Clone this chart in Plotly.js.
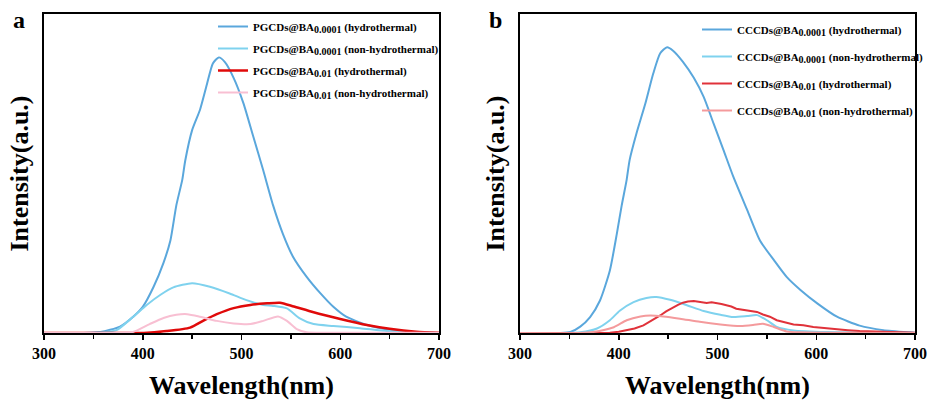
<!DOCTYPE html>
<html>
<head>
<meta charset="utf-8">
<script src="https://cdn.plot.ly/plotly-3.0.1.min.js"></script>
<style>html,body{margin:0;padding:0;background:#fff;}#chart{width:931px;height:406px;}</style>
</head>
<body>
<div id="chart"></div>
<script>
// ---------- Data ----------
const xTickVals = [300, 400, 500, 600, 700];
const xTickText = ["300", "400", "500", "600", "700"];

// Panel a: PGCDs
const namesA = [
  "PGCDs@BA<sub><span style=\"font-size:10px\">0.0001</span></sub> (hydrothermal)",
  "PGCDs@BA<sub><span style=\"font-size:10px\">0.0001</span></sub> (non-hydrothermal)",
  "PGCDs@BA<sub><span style=\"font-size:10px\">0.01</span></sub> (hydrothermal)",
  "PGCDs@BA<sub><span style=\"font-size:10px\">0.01</span></sub> (non-hydrothermal)"
];
const wlA1  = [300, 340, 357, 367, 377, 390, 400, 411, 421, 428, 434, 440, 443, 450, 458, 465, 471, 477, 483, 492, 502, 512, 522, 532, 542, 552, 566, 580, 593, 606, 627, 650, 680, 700];
const intA1 = [0, 0, 0.003, 0.01, 0.02, 0.05, 0.082, 0.145, 0.22, 0.29, 0.40, 0.48, 0.54, 0.636, 0.70, 0.78, 0.845, 0.864, 0.85, 0.80, 0.72, 0.615, 0.51, 0.40, 0.31, 0.24, 0.176, 0.124, 0.082, 0.051, 0.025, 0.01, 0.002, 0];
const wlA2  = [300, 350, 362, 374, 390, 404, 418, 431, 450, 468, 488, 505, 522, 532, 546, 559, 573, 593, 620, 647, 674, 700];
const intA2 = [0, 0, 0.003, 0.01, 0.05, 0.088, 0.12, 0.143, 0.156, 0.145, 0.124, 0.103, 0.088, 0.085, 0.077, 0.046, 0.028, 0.022, 0.015, 0.006, 0.002, 0];
const wlA3  = [300, 370, 401, 424, 448, 461, 475, 492, 509, 526, 539, 553, 573, 600, 627, 650, 677, 700];
const intA3 = [0, 0, 0, 0.006, 0.017, 0.038, 0.059, 0.078, 0.088, 0.093, 0.095, 0.083, 0.065, 0.044, 0.025, 0.013, 0.004, 0.001];
const wlA4  = [300, 370, 390, 407, 421, 434, 445, 458, 475, 492, 509, 522, 537, 546, 556, 566, 600, 700];
const intA4 = [0, 0, 0.003, 0.028, 0.047, 0.057, 0.059, 0.051, 0.038, 0.030, 0.028, 0.038, 0.052, 0.038, 0.012, 0.002, 0.001, 0.001];

// Panel b: CCCDs
const namesB = [
  "CCCDs@BA<sub><span style=\"font-size:10px\">0.0001</span></sub> (hydrothermal)",
  "CCCDs@BA<sub><span style=\"font-size:10px\">0.0001</span></sub> (non-hydrothermal)",
  "CCCDs@BA<sub><span style=\"font-size:10px\">0.01</span></sub> (hydrothermal)",
  "CCCDs@BA<sub><span style=\"font-size:10px\">0.01</span></sub> (non-hydrothermal)"
];
const wlB1  = [300, 340, 351, 361, 371, 381, 391, 398, 403, 408, 411, 418, 427, 435, 442, 449, 455, 465, 476, 486, 496, 506, 516, 530, 543, 557, 570, 584, 601, 621, 644, 668, 695, 700];
const intB1 = [0, 0, 0.003, 0.02, 0.05, 0.102, 0.196, 0.31, 0.40, 0.48, 0.542, 0.626, 0.72, 0.814, 0.877, 0.896, 0.885, 0.85, 0.80, 0.74, 0.657, 0.574, 0.49, 0.386, 0.29, 0.229, 0.176, 0.135, 0.093, 0.051, 0.023, 0.009, 0.002, 0.001];
const wlB2  = [300, 350, 361, 378, 391, 401, 415, 428, 438, 452, 469, 486, 503, 516, 530, 540, 550, 560, 577, 611, 700];
const intB2 = [0, 0, 0.002, 0.014, 0.04, 0.07, 0.097, 0.11, 0.113, 0.104, 0.087, 0.069, 0.057, 0.050, 0.053, 0.056, 0.040, 0.019, 0.008, 0.003, 0];
const wlB3  = [300, 380, 391, 400, 408, 416, 425, 433, 442, 448, 455, 460, 465, 470, 476, 481, 486, 489, 494, 499, 504, 509, 514, 519, 526, 533, 540, 546, 553, 560, 568, 577, 587, 597, 608, 621, 632, 644, 660, 678, 700];
const intB3 = [0, 0, 0.001, 0.004, 0.008, 0.014, 0.024, 0.038, 0.055, 0.068, 0.081, 0.088, 0.095, 0.099, 0.100, 0.097, 0.095, 0.094, 0.096, 0.094, 0.091, 0.087, 0.083, 0.076, 0.072, 0.069, 0.066, 0.058, 0.051, 0.040, 0.033, 0.027, 0.024, 0.019, 0.016, 0.011, 0.009, 0.006, 0.004, 0.002, 0.001];
const wlB4  = [300, 360, 374, 395, 408, 422, 432, 445, 462, 482, 503, 523, 536, 546, 557, 570, 583, 620, 700];
const intB4 = [0, 0, 0.003, 0.018, 0.04, 0.052, 0.055, 0.052, 0.045, 0.035, 0.027, 0.022, 0.025, 0.029, 0.019, 0.005, 0.002, 0.001, 0];

const colorsA = ["#5aa7dc", "#7fd2ee", "#e00a0a", "#f8bfd2"];
const colorsB = ["#5aa7dc", "#7fd2ee", "#e0323a", "#f49a9c"];

// ---------- Traces ----------
const dataA = [[wlA1, intA1], [wlA2, intA2], [wlA3, intA3], [wlA4, intA4]];
const dataB = [[wlB1, intB1], [wlB2, intB2], [wlB3, intB3], [wlB4, intB4]];
const traces = [];
dataA.forEach((d, i) => traces.push({
  x: d[0], y: d[1], name: namesA[i], type: 'scatter', mode: 'lines',
  line: {color: colorsA[i], width: i === 2 ? 2.5 : 2, shape: 'spline', smoothing: 0.6},
  xaxis: 'x', yaxis: 'y', legend: 'legend', legendgroup: 'a' + i
}));
dataB.forEach((d, i) => traces.push({
  x: d[0], y: d[1], name: namesB[i], type: 'scatter', mode: 'lines',
  line: {color: colorsB[i], width: 2, shape: i === 2 ? 'linear' : 'spline', smoothing: 0.6},
  xaxis: 'x2', yaxis: 'y2', legend: 'legend2', legendgroup: 'b' + i
}));

const serif = 'Liberation Serif, Times New Roman, serif';
function xAxis(domain, anchor) {
  return {
    domain: domain, anchor: anchor, range: [300, 700],
    tickmode: 'array', tickvals: xTickVals, ticktext: xTickText,
    ticks: 'outside', ticklen: 5, tickwidth: 1.5, tickcolor: '#000',
    minor: {dtick: 50, tick0: 300, ticks: 'outside', ticklen: 4, tickwidth: 1.5, tickcolor: '#000', showgrid: false},
    showline: true, mirror: true, linecolor: '#000', linewidth: 2,
    showgrid: false, zeroline: false,
    tickfont: {family: serif, size: 16, color: '#000', weight: 'bold'},
    title: {text: 'Wavelength(nm)', font: {family: serif, size: 26, color: '#000', weight: 'bold'}, standoff: 15}
  };
}
function yAxis(domain, anchor) {
  return {
    domain: domain, anchor: anchor, range: [0, 1],
    showline: true, mirror: true, linecolor: '#000', linewidth: 2,
    showgrid: false, zeroline: false, showticklabels: false, ticks: '',
    title: {text: 'Intensity(a.u.)', font: {family: serif, size: 26, color: '#000', weight: 'bold'}, standoff: 6}
  };
}
const legendFont = {family: serif, size: 11, color: '#000', weight: 'bold'};

const layout = {
  width: 931, height: 406,
  margin: {l: 0, r: 0, t: 0, b: 0},
  paper_bgcolor: '#fff', plot_bgcolor: '#fff',
  showlegend: true,
  xaxis: xAxis([44/931, 439/931], 'y'),
  yaxis: yAxis([73/406, 392/406], 'x'),
  xaxis2: xAxis([520/931, 915/931], 'y2'),
  yaxis2: yAxis([73/406, 392/406], 'x2'),
  legend: {x: 213/931, xanchor: 'left', y: 394/406, yanchor: 'top', bgcolor: 'rgba(0,0,0,0)',
           font: legendFont, tracegroupgap: 3, itemwidth: 30},
  legend2: {x: 697/931, xanchor: 'left', y: 391/406, yanchor: 'top', bgcolor: 'rgba(0,0,0,0)',
            font: legendFont, tracegroupgap: 8, itemwidth: 30},
  annotations: [
    {text: 'a', x: 19/931, y: 1 - 20/406, xref: 'paper', yref: 'paper', xanchor: 'center', yanchor: 'middle', showarrow: false,
     font: {family: serif, size: 24, color: '#000', weight: 'bold'}},
    {text: 'b', x: 495/931, y: 1 - 20/406, xref: 'paper', yref: 'paper', xanchor: 'center', yanchor: 'middle', showarrow: false,
     font: {family: serif, size: 24, color: '#000', weight: 'bold'}}
  ]
};

Plotly.newPlot('chart', traces, layout, {displayModeBar: false, staticPlot: true});
</script>
</body>
</html>
